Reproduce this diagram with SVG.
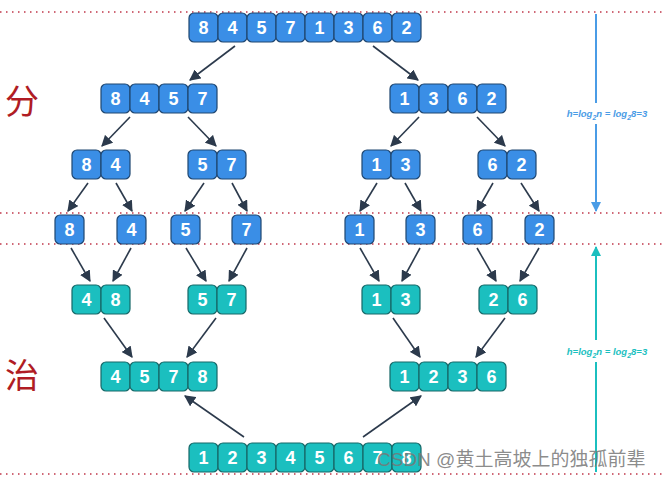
<svg xmlns="http://www.w3.org/2000/svg" width="664" height="479" viewBox="0 0 664 479">
<defs>
<style>
.b rect{fill:#3a8ee6;stroke:#1f4670;stroke-width:1.2}
.t rect{fill:#1bbfbf;stroke:#176868;stroke-width:1.2}
text.n{font-family:"Liberation Sans",Arial,sans-serif;font-weight:bold;font-size:18px;fill:#fff;text-anchor:middle}
.dot{stroke:#c0374a;stroke-width:1.5;stroke-dasharray:1.5 4.5}
.ar{stroke:#2c3a4c;stroke-width:1.6;fill:none;marker-end:url(#a)}
.lbl{font-family:"Liberation Sans",Arial,sans-serif;font-weight:bold;font-style:italic;font-size:9.5px}
.cj{font-family:"Noto Sans CJK SC",serif;font-size:34px;fill:#b01c24}
</style>
<marker id="a" viewBox="0 0 10 10" refX="9" refY="5" markerWidth="7" markerHeight="7" orient="auto"><path d="M0,0L10,5L0,10z" fill="#2c3a4c"/></marker>
<marker id="bb" viewBox="0 0 10 10" refX="9" refY="5" markerWidth="5" markerHeight="5" orient="auto"><path d="M0,0L10,5L0,10z" fill="#4a9ce6"/></marker>
<marker id="tt" viewBox="0 0 10 10" refX="9" refY="5" markerWidth="5" markerHeight="5" orient="auto"><path d="M0,0L10,5L0,10z" fill="#1bbfbf"/></marker>
</defs>
<rect width="664" height="479" fill="#fff"/>
<g id="guides">
<line class="dot" x1="0" y1="12" x2="664" y2="12"/>
<line class="dot" x1="0" y1="213" x2="664" y2="213"/>
<line class="dot" x1="0" y1="244" x2="664" y2="244"/>
<line class="dot" x1="0" y1="474" x2="664" y2="474"/>
<line x1="596" y1="14" x2="596" y2="103" stroke="#4a9ce6" stroke-width="2"/>
<line x1="596" y1="124" x2="596" y2="211" stroke="#4a9ce6" stroke-width="2" marker-end="url(#bb)"/>
<text class="lbl" x="607" y="117" fill="#4a9ce6" text-anchor="middle">h=log<tspan dy="3" font-size="7">2</tspan><tspan dy="-3">n = log</tspan><tspan dy="3" font-size="7">2</tspan><tspan dy="-3">8=3</tspan></text>
<line x1="596" y1="340" x2="596" y2="247" stroke="#1bbfbf" stroke-width="2" marker-end="url(#tt)"/>
<line x1="596" y1="362" x2="596" y2="472" stroke="#1bbfbf" stroke-width="2"/>
<text class="lbl" x="607" y="355" fill="#1bbfbf" text-anchor="middle">h=log<tspan dy="3" font-size="7">2</tspan><tspan dy="-3">n = log</tspan><tspan dy="3" font-size="7">2</tspan><tspan dy="-3">8=3</tspan></text>
<text class="cj" x="5" y="114">分</text>
<text class="cj" x="5" y="388">治</text>
</g>
<g id="connectors">
<line class="ar" x1="235" y1="46" x2="190" y2="80"/>
<line class="ar" x1="373" y1="46" x2="418" y2="80"/>
<line class="ar" x1="130" y1="117" x2="102" y2="146"/>
<line class="ar" x1="188" y1="117" x2="216" y2="146"/>
<line class="ar" x1="419" y1="117" x2="391" y2="146"/>
<line class="ar" x1="477" y1="117" x2="505" y2="146"/>
<line class="ar" x1="88" y1="183" x2="68" y2="211"/>
<line class="ar" x1="116" y1="183" x2="132" y2="211"/>
<line class="ar" x1="204" y1="183" x2="185" y2="211"/>
<line class="ar" x1="232" y1="183" x2="247" y2="211"/>
<line class="ar" x1="377" y1="183" x2="360" y2="211"/>
<line class="ar" x1="405" y1="183" x2="421" y2="211"/>
<line class="ar" x1="493" y1="183" x2="477" y2="211"/>
<line class="ar" x1="521" y1="183" x2="539" y2="211"/>
<line class="ar" x1="71" y1="248" x2="90" y2="281"/>
<line class="ar" x1="131" y1="248" x2="113" y2="281"/>
<line class="ar" x1="186" y1="248" x2="206" y2="281"/>
<line class="ar" x1="247" y1="248" x2="229" y2="281"/>
<line class="ar" x1="360" y1="248" x2="379" y2="281"/>
<line class="ar" x1="420" y1="248" x2="402" y2="281"/>
<line class="ar" x1="477" y1="248" x2="496" y2="281"/>
<line class="ar" x1="539" y1="248" x2="520" y2="281"/>
<line class="ar" x1="104" y1="318" x2="132" y2="357"/>
<line class="ar" x1="216" y1="318" x2="187" y2="357"/>
<line class="ar" x1="393" y1="318" x2="420" y2="357"/>
<line class="ar" x1="505" y1="318" x2="476" y2="357"/>
<line class="ar" x1="244" y1="437" x2="185" y2="396"/>
<line class="ar" x1="363" y1="437" x2="421" y2="396"/>
</g>
<g id="n1" class="b"><rect x="189" y="13" width="29" height="29" rx="5"/><rect x="218" y="13" width="29" height="29" rx="5"/><rect x="247" y="13" width="29" height="29" rx="5"/><rect x="276" y="13" width="29" height="29" rx="5"/><rect x="305" y="13" width="29" height="29" rx="5"/><rect x="334" y="13" width="29" height="29" rx="5"/><rect x="363" y="13" width="29" height="29" rx="5"/><rect x="392" y="13" width="29" height="29" rx="5"/>
<text class="n" y="34"><tspan x="203.5">8</tspan><tspan x="232.5">4</tspan><tspan x="261.5">5</tspan><tspan x="290.5">7</tspan><tspan x="319.5">1</tspan><tspan x="348.5">3</tspan><tspan x="377.5">6</tspan><tspan x="406.5">2</tspan></text></g>
<g id="n2" class="b"><rect x="101" y="84" width="29" height="29" rx="5"/><rect x="130" y="84" width="29" height="29" rx="5"/><rect x="159" y="84" width="29" height="29" rx="5"/><rect x="188" y="84" width="29" height="29" rx="5"/>
<text class="n" y="105"><tspan x="115.5">8</tspan><tspan x="144.5">4</tspan><tspan x="173.5">5</tspan><tspan x="202.5">7</tspan></text></g>
<g id="n3" class="b"><rect x="390" y="84" width="29" height="29" rx="5"/><rect x="419" y="84" width="29" height="29" rx="5"/><rect x="448" y="84" width="29" height="29" rx="5"/><rect x="477" y="84" width="29" height="29" rx="5"/>
<text class="n" y="105"><tspan x="404.5">1</tspan><tspan x="433.5">3</tspan><tspan x="462.5">6</tspan><tspan x="491.5">2</tspan></text></g>
<g id="n4" class="b"><rect x="72" y="150" width="29" height="29" rx="5"/><rect x="101" y="150" width="29" height="29" rx="5"/><text class="n" y="171"><tspan x="86.5">8</tspan><tspan x="115.5">4</tspan></text></g>
<g id="n5" class="b"><rect x="188" y="150" width="29" height="29" rx="5"/><rect x="217" y="150" width="29" height="29" rx="5"/><text class="n" y="171"><tspan x="202.5">5</tspan><tspan x="231.5">7</tspan></text></g>
<g id="n6" class="b"><rect x="362" y="150" width="29" height="29" rx="5"/><rect x="391" y="150" width="29" height="29" rx="5"/><text class="n" y="171"><tspan x="376.5">1</tspan><tspan x="405.5">3</tspan></text></g>
<g id="n7" class="b"><rect x="478" y="150" width="29" height="29" rx="5"/><rect x="507" y="150" width="29" height="29" rx="5"/><text class="n" y="171"><tspan x="492.5">6</tspan><tspan x="521.5">2</tspan></text></g>
<g id="s8" class="b"><rect x="55" y="215" width="29" height="29" rx="5"/><text class="n" x="69.5" y="236">8</text></g>
<g id="s4" class="b"><rect x="117" y="215" width="29" height="29" rx="5"/><text class="n" x="131.5" y="236">4</text></g>
<g id="s5" class="b"><rect x="171" y="215" width="29" height="29" rx="5"/><text class="n" x="185.5" y="236">5</text></g>
<g id="s7" class="b"><rect x="232" y="215" width="29" height="29" rx="5"/><text class="n" x="246.5" y="236">7</text></g>
<g id="s1" class="b"><rect x="345" y="215" width="29" height="29" rx="5"/><text class="n" x="359.5" y="236">1</text></g>
<g id="s3" class="b"><rect x="406" y="215" width="29" height="29" rx="5"/><text class="n" x="420.5" y="236">3</text></g>
<g id="s6" class="b"><rect x="463" y="215" width="29" height="29" rx="5"/><text class="n" x="477.5" y="236">6</text></g>
<g id="s2" class="b"><rect x="525" y="215" width="29" height="29" rx="5"/><text class="n" x="539.5" y="236">2</text></g>
<g id="m1" class="t"><rect x="72" y="285" width="29" height="29" rx="5"/><rect x="101" y="285" width="29" height="29" rx="5"/><text class="n" y="306"><tspan x="86.5">4</tspan><tspan x="115.5">8</tspan></text></g>
<g id="m2" class="t"><rect x="188" y="285" width="29" height="29" rx="5"/><rect x="217" y="285" width="29" height="29" rx="5"/><text class="n" y="306"><tspan x="202.5">5</tspan><tspan x="231.5">7</tspan></text></g>
<g id="m3" class="t"><rect x="362" y="285" width="29" height="29" rx="5"/><rect x="391" y="285" width="29" height="29" rx="5"/><text class="n" y="306"><tspan x="376.5">1</tspan><tspan x="405.5">3</tspan></text></g>
<g id="m4" class="t"><rect x="479" y="285" width="29" height="29" rx="5"/><rect x="508" y="285" width="29" height="29" rx="5"/><text class="n" y="306"><tspan x="493.5">2</tspan><tspan x="522.5">6</tspan></text></g>
<g id="m5" class="t"><rect x="101" y="362" width="29" height="29" rx="5"/><rect x="130" y="362" width="29" height="29" rx="5"/><rect x="159" y="362" width="29" height="29" rx="5"/><rect x="188" y="362" width="29" height="29" rx="5"/>
<text class="n" y="383"><tspan x="115.5">4</tspan><tspan x="144.5">5</tspan><tspan x="173.5">7</tspan><tspan x="202.5">8</tspan></text></g>
<g id="m6" class="t"><rect x="390" y="362" width="29" height="29" rx="5"/><rect x="419" y="362" width="29" height="29" rx="5"/><rect x="448" y="362" width="29" height="29" rx="5"/><rect x="477" y="362" width="29" height="29" rx="5"/>
<text class="n" y="383"><tspan x="404.5">1</tspan><tspan x="433.5">2</tspan><tspan x="462.5">3</tspan><tspan x="491.5">6</tspan></text></g>
<g id="m7" class="t"><rect x="189" y="443" width="29" height="29" rx="5"/><rect x="218" y="443" width="29" height="29" rx="5"/><rect x="247" y="443" width="29" height="29" rx="5"/><rect x="276" y="443" width="29" height="29" rx="5"/><rect x="305" y="443" width="29" height="29" rx="5"/><rect x="334" y="443" width="29" height="29" rx="5"/><rect x="363" y="443" width="29" height="29" rx="5"/><rect x="392" y="443" width="29" height="29" rx="5"/>
<text class="n" y="464"><tspan x="203.5">1</tspan><tspan x="232.5">2</tspan><tspan x="261.5">3</tspan><tspan x="290.5">4</tspan><tspan x="319.5">5</tspan><tspan x="348.5">6</tspan><tspan x="377.5">7</tspan><tspan x="406.5">8</tspan></text></g>
<text x="377" y="466" font-family="'Liberation Sans','Noto Sans CJK SC',sans-serif" font-size="19" fill="#777" fill-opacity="0.85">CSDN @黄土高坡上的独孤前辈</text>
</svg>
